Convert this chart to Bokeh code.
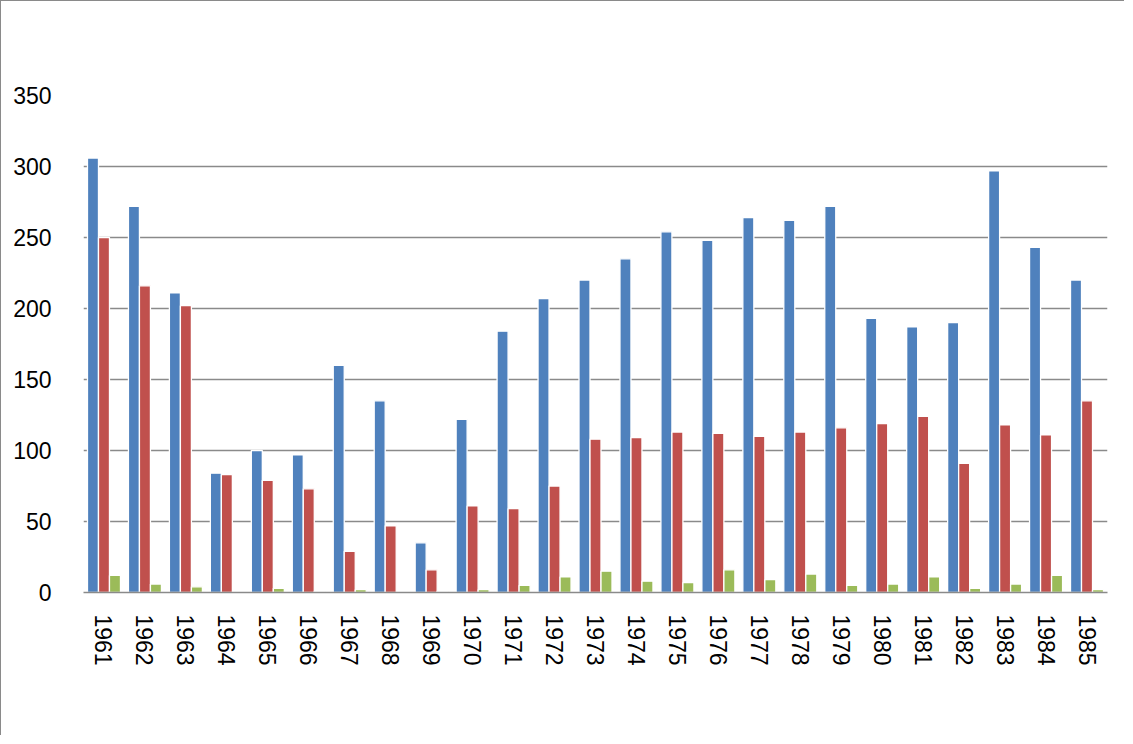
from bokeh.plotting import figure
from bokeh.models import (ColumnDataSource, FactorRange, Range1d, SingleIntervalTicker,
                          Legend, LegendItem, Label)
from bokeh.transform import dodge
from bokeh.embed import file_html
from bokeh.resources import INLINE

years = ["1961", "1962", "1963", "1964", "1965", "1966", "1967", "1968", "1969", "1970",
         "1971", "1972", "1973", "1974", "1975", "1976", "1977", "1978", "1979", "1980",
         "1981", "1982", "1983", "1984", "1985"]
napad = [306, 272, 211, 84, 100, 97, 160, 135, 35, 122, 184, 207, 220, 235, 254, 248, 264,
         262, 272, 193, 187, 190, 297, 243, 220]
vstupy = [250, 216, 202, 83, 79, 73, 29, 47, 16, 61, 59, 75, 108, 109, 113, 112, 110, 113,
          116, 119, 124, 91, 118, 111, 135]
navrhy = [12, 6, 4, 0, 3, 1, 2, 0, 1, 2, 5, 11, 15, 8, 7, 16, 9, 13, 5, 6, 11, 3, 6, 12, 2]
series_names = ["Nápad", "Počet vstupů", "Počet návrhů na zahájení řízení"]
colors = ["#4F81BD", "#C0504D", "#9BBB59"]
title_text = "Okresní proluratura v Trutnově"

source = ColumnDataSource(dict(year=years, napad=napad, vstupy=vstupy, navrhy=navrhy))

W, H = 1124, 735
p = figure(width=W, height=H, x_range=FactorRange(factors=years), y_range=Range1d(0, 350),
           output_backend="svg", toolbar_location=None,
           min_border_left=82, min_border_right=18, min_border_top=94, min_border_bottom=144)
p.styles = {"border-left": "1px solid #8a8a8a", "border-top": "1px solid #8a8a8a"}
p.outline_line_color = None
p.background_fill_color = "white"
p.border_fill_color = "white"

bw = 0.2686
cols = ["napad", "vstupy", "navrhy"]
offsets = [-bw, 0.0, bw]
renderers = []
for c, off, col in zip(cols, offsets, colors):
    r = p.vbar(x=dodge("year", off, range=p.x_range), top=c, width=bw, source=source,
               fill_color=col, line_color="white", line_width=1.3)
    renderers.append(r)

# axes
p.yaxis.ticker = SingleIntervalTicker(interval=50)
p.yaxis.axis_line_color = None
p.yaxis.major_tick_line_color = None
p.yaxis.minor_tick_line_color = None
p.yaxis.major_label_standoff = 26
p.yaxis.major_label_text_font = "Liberation Sans"
p.yaxis.major_label_text_font_size = "23px"
p.yaxis.major_label_text_color = "black"

p.xaxis.axis_line_color = "#8a8a8a"
p.xaxis.axis_line_width = 1.5
p.xaxis.major_tick_line_color = None
p.xaxis.minor_tick_line_color = None
p.xaxis.major_label_orientation = "vertical"
p.xaxis.major_label_standoff = 16
p.xaxis.major_label_text_font = "Liberation Sans"
p.xaxis.major_label_text_font_size = "23px"
p.xaxis.major_label_text_color = "black"

p.xgrid.grid_line_color = None
p.ygrid.grid_line_color = "#8a8a8a"
p.ygrid.grid_line_width = 1.3

# title
p.add_layout(Label(x=485.7, y=536.7, x_units="screen", y_units="screen", text=title_text,
                   text_font="Liberation Serif", text_font_style="bold",
                   text_font_size="32px", text_align="center", text_baseline="alphabetic",
                   text_color="black"))

legend = Legend(items=[LegendItem(label=n, renderers=[r]) for n, r in zip(series_names, renderers)],
                orientation="horizontal", location=(145, -128),
                glyph_width=15, glyph_height=15, label_standoff=6, spacing=40,
                padding=0, margin=0, border_line_color=None, background_fill_alpha=0,
                label_text_font="Liberation Sans", label_text_font_size="23px",
                label_text_color="black")
p.add_layout(legend, "center")

open("out.html", "w").write(file_html(p, INLINE))
